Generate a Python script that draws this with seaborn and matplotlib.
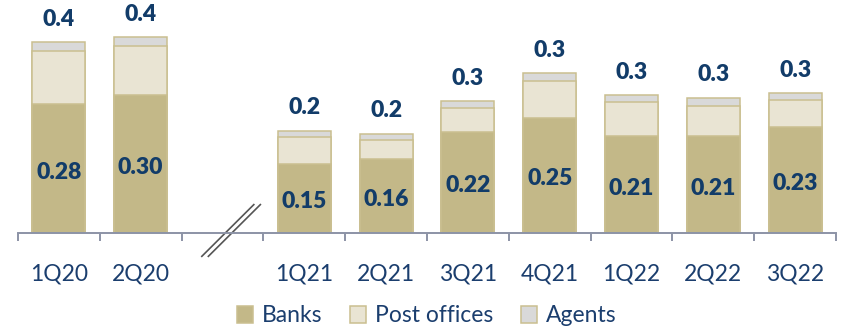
import numpy as np
import pandas as pd
import matplotlib
matplotlib.use("Agg")
import matplotlib.pyplot as plt
import seaborn as sns

# Quarterly values by channel
quarters = ["1Q20", "2Q20", "1Q21", "2Q21", "3Q21", "4Q21", "1Q22", "2Q22", "3Q22"]
banks = [0.28, 0.30, 0.15, 0.16, 0.22, 0.25, 0.21, 0.21, 0.23]
post_offices = [0.115, 0.106, 0.059, 0.043, 0.052, 0.080, 0.074, 0.067, 0.059]
agents = [0.020, 0.020, 0.013, 0.013, 0.015, 0.017, 0.015, 0.017, 0.015]

# an empty slot separates 2020 from the later quarters
slot_order = ["1Q20", "2Q20", " ", "1Q21", "2Q21", "3Q21", "4Q21", "1Q22", "2Q22", "3Q22"]

df = pd.DataFrame({"quarter": quarters, "Banks": banks,
                   "Post offices": post_offices, "Agents": agents})
df["lvl_post"] = df["Banks"] + df["Post offices"]
df["total"] = df["lvl_post"] + df["Agents"]

sns.set_theme(style="white")
plt.rcParams["font.family"] = ["Lato", "DejaVu Sans"]

NAVY = "#123C69"
TICK = "#1B3E6E"
SPINE = "#8C93A6"
EDGE = "#CABF90"
C_BANK = "#C3B888"
C_POST = "#E9E4D3"
C_AGENT = "#D9D9D9"

fig = plt.figure(figsize=(8.51, 3.28), dpi=100)
W, H = 851, 328
ax = fig.add_axes([18 / W, (H - 233) / H, 818 / W, 233 / H])

width = 0.65
common = dict(data=df, x="quarter", order=slot_order, width=width, saturation=1,
              edgecolor=EDGE, linewidth=1.1, ax=ax, legend=False)
# cumulative layers drawn back to front give the stacked look
sns.barplot(y="total", color=C_AGENT, label="Agents", **common)
sns.barplot(y="lvl_post", color=C_POST, label="Post offices", **common)
sns.barplot(y="Banks", color=C_BANK, label="Banks", **common)
if ax.get_legend() is not None:
    ax.get_legend().remove()

ax.set_ylim(0, 233 / 460)
ax.set_xlim(-0.5, len(slot_order) - 0.5)
ax.set_xlabel("")
ax.set_ylabel("")
ax.set_yticks([])

for s in ["top", "right", "left"]:
    ax.spines[s].set_visible(False)
ax.spines["bottom"].set_color(SPINE)
ax.spines["bottom"].set_linewidth(1.4)

ax.set_xticks(range(len(slot_order)))
ax.set_xticklabels(slot_order, fontsize=16.5, color=TICK)
ax.tick_params(axis="x", which="major", length=0, pad=22, bottom=True)
ax.set_xticks(np.arange(-0.5, len(slot_order), 1.0), minor=True)
ax.tick_params(axis="x", which="minor", length=6, width=1.4, color=SPINE,
               direction="out", bottom=True)

# value labels
pos = {q: slot_order.index(q) for q in quarters}
for _, r in df.iterrows():
    x = pos[r["quarter"]]
    ax.annotate(f"{r['Banks']:.2f}", (x, r["Banks"] / 2), xytext=(0, -2.5),
                textcoords="offset points", ha="center", va="center",
                fontsize=16.5, fontweight="heavy", color=NAVY)
    ax.annotate(f"{r['total']:.1f}", (x, r["total"]), xytext=(0, 16.5),
                textcoords="offset points", ha="center", va="center",
                fontsize=16.5, fontweight="heavy", color=NAVY, annotation_clip=False)

# axis break marks in the empty slot
for dx in (0.0, 0.08):
    ax.plot([1.74 + dx, 2.39 + dx], [-0.052, 0.063], color="#555555", lw=1.2,
            clip_on=False, solid_capstyle="butt")

handles, labels = ax.get_legend_handles_labels()
order = [labels.index(n) for n in ["Banks", "Post offices", "Agents"]]
leg = fig.legend([handles[i] for i in order], [labels[i] for i in order],
                 loc="center", bbox_to_anchor=((18 + 409) / W, 12 / H), ncol=3,
                 frameon=False, fontsize=16.5, handlelength=0.7, handleheight=0.7,
                 handletextpad=0.4, columnspacing=1.2, borderaxespad=0)
for t in leg.get_texts():
    t.set_color(TICK)

fig.savefig("out.png", dpi=100)
